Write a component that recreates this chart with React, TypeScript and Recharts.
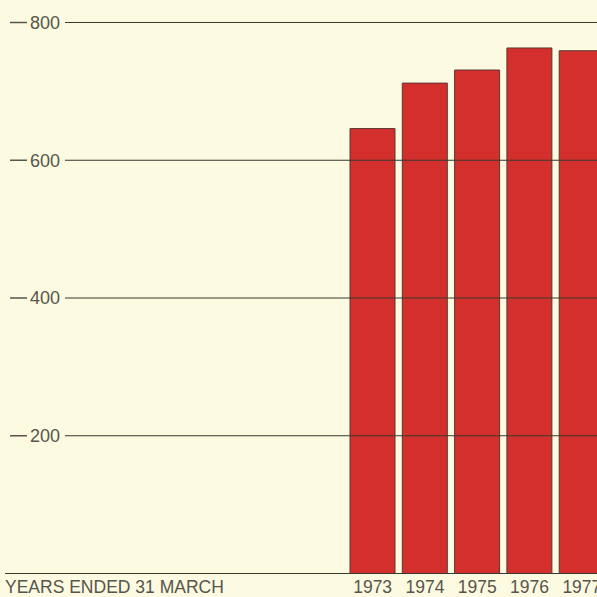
import React from 'react';
import { BarChart, Bar, XAxis, YAxis, ReferenceLine, Label } from 'recharts';

// Annual figures, years ended 31 March
const years = ['1973', '1974', '1975', '1976', '1977'];
const values = [646, 712, 731, 763, 759];
const yTicks = [0, 200, 400, 600, 800];
const gridValues = [200, 400, 600, 800];
const axisTitle = 'YEARS ENDED 31 MARCH';

const data = years.map((year, i) => ({ year, value: values[i] }));

const PAPER = '#fcfae0';
const INK = '#57554c';
const RULE = '#3b382f';
const BAR_FILL = '#d3302d';
const BAR_EDGE = '#5b3632';
const FONT = '"Liberation Sans", Arial, Helvetica, sans-serif';

function YTick(props: any) {
  const { y, payload } = props;
  if (payload.value === 0) {
    // baseline runs out to the left edge under the axis title
    return <line x1={5} x2={66} y1={y} y2={y} stroke={RULE} strokeWidth={1.2} />;
  }
  return (
    <g>
      <line x1={10} x2={27} y1={y} y2={y} stroke={INK} strokeWidth={1.5} />
      <text x={30} y={y} dy="0.36em" fontSize={18} fill={INK} fontFamily={FONT}>
        {payload.value}
      </text>
    </g>
  );
}

function XTick(props: any) {
  const { x, y, payload } = props;
  return (
    <text x={x} y={y + 19.5} textAnchor="middle" fontSize={17.5} fill={INK} fontFamily={FONT}>
      {payload.value}
    </text>
  );
}

function AxisTitle(props: any) {
  const vb = props.viewBox || {};
  return (
    <text x={5} y={(vb.y ?? 573.5) + 19.5} fontSize={17.5} fill={INK} fontFamily={FONT}>
      {axisTitle}
    </text>
  );
}

export default function App() {
  return (
    <div
      style={{
        position: 'fixed',
        left: 0,
        top: 0,
        width: 597,
        height: 597,
        overflow: 'hidden',
        background: PAPER,
      }}
    >
      <BarChart
        width={608}
        height={597}
        data={data}
        margin={{ top: 22.5, right: 0, bottom: 0, left: 0 }}
        barCategoryGap={3.5}
      >
        <XAxis
          dataKey="year"
          type="category"
          height={23.5}
          padding={{ left: 281.5, right: 0 }}
          axisLine={{ stroke: RULE, strokeWidth: 1.2 }}
          tickLine={false}
          tickSize={0}
          tickMargin={0}
          interval={0}
          tick={<XTick />}
        >
          <Label content={<AxisTitle />} />
        </XAxis>
        <YAxis
          type="number"
          width={65}
          domain={[0, 800]}
          ticks={yTicks}
          axisLine={false}
          tickLine={false}
          tick={<YTick />}
        />
        <Bar
          dataKey="value"
          fill={BAR_FILL}
          stroke={BAR_EDGE}
          strokeWidth={1}
          isAnimationActive={false}
        />
        {gridValues.map((v) => (
          <ReferenceLine key={v} y={v} stroke={RULE} strokeWidth={1} />
        ))}
      </BarChart>
    </div>
  );
}
